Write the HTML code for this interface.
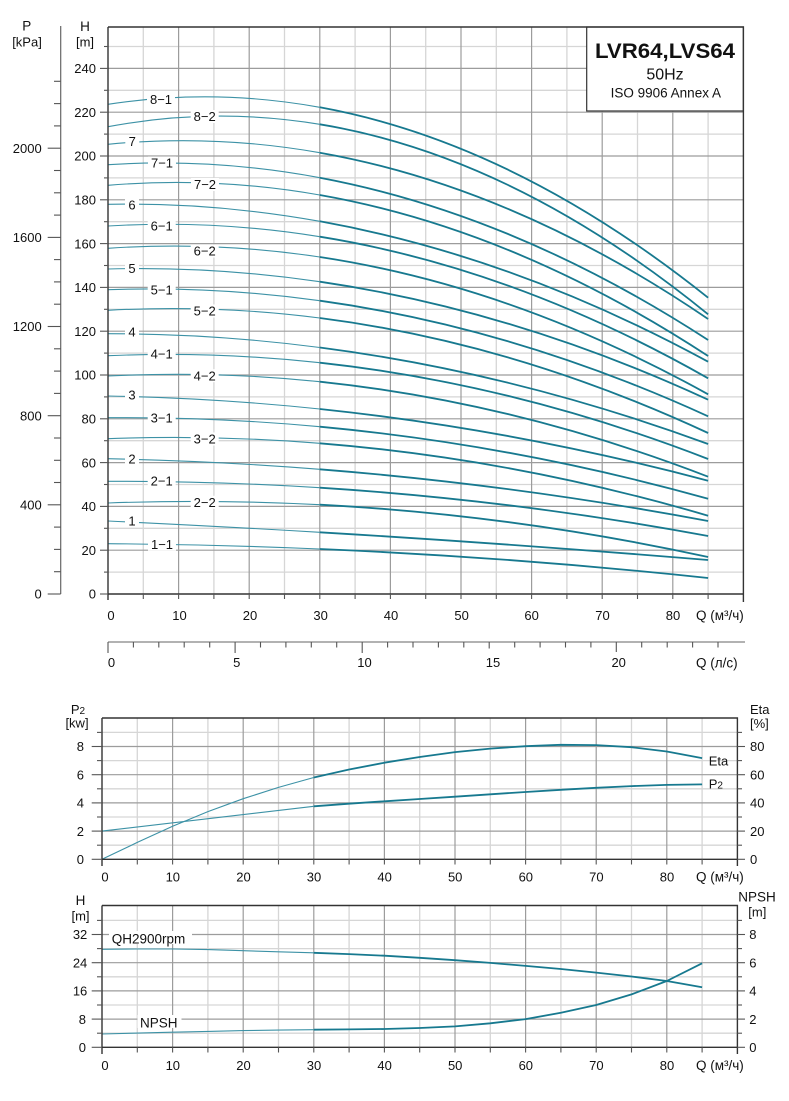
<!DOCTYPE html>
<html><head><meta charset="utf-8"><style>
html,body{margin:0;padding:0;background:#fff;}
svg{display:block;font-family:"Liberation Sans",Arial,sans-serif;}
.gl{stroke:#d6d6d6;stroke-width:1.3;}
.gd{stroke:#9c9c9c;stroke-width:1.2;}
.ax{stroke:#333;stroke-width:1.4;fill:none;}
.tk{stroke:#555;stroke-width:1.1;}
.thin{fill:none;stroke:#3d92a6;stroke-width:1.1;}
.thick{fill:none;stroke:#17798f;stroke-width:1.8;stroke-linejoin:round;}
text{fill:#111;font-size:13px;}
.lb{font-size:13px;text-anchor:middle;}
.r{text-anchor:end;}
.m{text-anchor:middle;}
</style></head><body>
<svg width="789" height="1101" viewBox="0 0 789 1101" xmlns="http://www.w3.org/2000/svg">
<rect width="789" height="1101" fill="#fff"/>

<!-- ================= TOP CHART ================= -->
<g>
<!-- horizontal grid -->
<g class="gl">
<line x1="108" x2="743.4" y1="572.1" y2="572.1"/><line x1="108" x2="743.4" y1="528.3" y2="528.3"/>
<line x1="108" x2="743.4" y1="484.5" y2="484.5"/><line x1="108" x2="743.4" y1="440.7" y2="440.7"/>
<line x1="108" x2="743.4" y1="396.9" y2="396.9"/><line x1="108" x2="743.4" y1="353.1" y2="353.1"/>
<line x1="108" x2="743.4" y1="309.3" y2="309.3"/><line x1="108" x2="743.4" y1="265.5" y2="265.5"/>
<line x1="108" x2="743.4" y1="221.7" y2="221.7"/><line x1="108" x2="743.4" y1="177.9" y2="177.9"/>
<line x1="108" x2="743.4" y1="134.1" y2="134.1"/><line x1="108" x2="743.4" y1="90.3" y2="90.3"/>
<line x1="108" x2="743.4" y1="46.5" y2="46.5"/>
</g>
<g class="gl">
<line y1="27" y2="594" x1="143.3" x2="143.3"/><line y1="27" y2="594" x1="213.9" x2="213.9"/>
<line y1="27" y2="594" x1="284.5" x2="284.5"/><line y1="27" y2="594" x1="355.1" x2="355.1"/>
<line y1="27" y2="594" x1="425.7" x2="425.7"/><line y1="27" y2="594" x1="496.3" x2="496.3"/>
<line y1="27" y2="594" x1="566.9" x2="566.9"/><line y1="27" y2="594" x1="637.5" x2="637.5"/>
<line y1="27" y2="594" x1="708.1" x2="708.1"/>
</g>
<g class="gd">
<line x1="108" x2="743.4" y1="550.2" y2="550.2"/><line x1="108" x2="743.4" y1="506.4" y2="506.4"/>
<line x1="108" x2="743.4" y1="462.6" y2="462.6"/><line x1="108" x2="743.4" y1="418.8" y2="418.8"/>
<line x1="108" x2="743.4" y1="375" y2="375"/><line x1="108" x2="743.4" y1="331.2" y2="331.2"/>
<line x1="108" x2="743.4" y1="287.4" y2="287.4"/><line x1="108" x2="743.4" y1="243.6" y2="243.6"/>
<line x1="108" x2="743.4" y1="199.8" y2="199.8"/><line x1="108" x2="743.4" y1="156" y2="156"/>
<line x1="108" x2="743.4" y1="112.2" y2="112.2"/><line x1="108" x2="743.4" y1="68.4" y2="68.4"/>
<line y1="27" y2="594" x1="178.6" x2="178.6"/><line y1="27" y2="594" x1="249.2" x2="249.2"/>
<line y1="27" y2="594" x1="319.8" x2="319.8"/><line y1="27" y2="594" x1="390.4" x2="390.4"/>
<line y1="27" y2="594" x1="461" x2="461"/><line y1="27" y2="594" x1="531.6" x2="531.6"/>
<line y1="27" y2="594" x1="602.2" x2="602.2"/><line y1="27" y2="594" x1="672.8" x2="672.8"/>
</g>

<!-- curves: thin part 0-30 -->
<g class="thin">
<path d="M108,104.3 Q213.9,88.0 319.8,107.3"/>
<path d="M108,126.7 Q213.9,106.8 319.8,124.3"/>
<path d="M108,144.3 Q213.9,134.0 319.8,152.7"/>
<path d="M108,164.7 Q213.9,157.9 319.8,177.7"/>
<path d="M108,185.3 Q213.9,176.4 319.8,195"/>
<path d="M108,204.3 Q213.9,202.3 319.8,221.3"/>
<path d="M108,226 Q213.9,219.6 319.8,236.7"/>
<path d="M108,248.3 Q213.9,241.0 319.8,257"/>
<path d="M108,269 Q213.9,266.2 319.8,281.7"/>
<path d="M108,289.7 Q213.9,286.0 319.8,300.7"/>
<path d="M108,310.3 Q213.9,304.4 319.8,318"/>
<path d="M108,333.7 Q213.9,333.7 319.8,347.5"/>
<path d="M108,355.7 Q213.9,351.2 319.8,362.7"/>
<path d="M108,376 Q213.9,370.7 319.8,381.7"/>
<path d="M108,396 Q213.9,397.9 319.8,409"/>
<path d="M108,417.7 Q213.9,416.9 319.8,426.7"/>
<path d="M108,438.7 Q213.9,434.8 319.8,443.3"/>
<path d="M108,458.7 Q213.9,460.9 319.8,469.3"/>
<path d="M108,481.3 Q213.9,481.0 319.8,487.7"/>
<path d="M108,503 Q213.9,499.1 319.8,504.7"/>
<path d="M108,521 Q213.9,526.0 319.8,532.3"/>
<path d="M108,543.7 Q213.9,544.5 319.8,549"/>
</g>
<!-- curves: thick part 30-85 -->
<g class="thick">
<path d="M319.8,107.3 Q514,142.7 708.1,297.7"/>
<path d="M319.8,124.3 Q514,156.4 708.1,314.3"/>
<path d="M319.8,152.7 Q514,187.0 708.1,319"/>
<path d="M319.8,177.7 Q514,214.1 708.1,340"/>
<path d="M319.8,195 Q514,229.2 708.1,356"/>
<path d="M319.8,221.3 Q514,256.2 708.1,361.7"/>
<path d="M319.8,236.7 Q514,268.0 708.1,378.3"/>
<path d="M319.8,257 Q514,286.4 708.1,394.3"/>
<path d="M319.8,281.7 Q514,310.1 708.1,399.7"/>
<path d="M319.8,300.7 Q514,327.6 708.1,416.3"/>
<path d="M319.8,318 Q514,342.9 708.1,433"/>
<path d="M319.8,347.5 Q514,372.7 708.1,444"/>
<path d="M319.8,362.7 Q514,383.8 708.1,459"/>
<path d="M319.8,381.7 Q514,401.9 708.1,476.7"/>
<path d="M319.8,409 Q514,429.4 708.1,480.7"/>
<path d="M319.8,426.7 Q514,444.7 708.1,498.7"/>
<path d="M319.8,443.3 Q514,458.8 708.1,515.7"/>
<path d="M319.8,469.3 Q514,484.7 708.1,521"/>
<path d="M319.8,487.7 Q514,500.0 708.1,536"/>
<path d="M319.8,504.7 Q514,514.9 708.1,557"/>
<path d="M319.8,532.3 Q514,543.9 708.1,560"/>
<path d="M319.8,549 Q514,557.3 708.1,578"/>
</g>

<!-- curve labels -->
<g fill="#fff">
<rect x="147" y="93" width="28" height="13"/>
<rect x="190.7" y="110" width="28" height="13"/>
<rect x="125.3" y="135" width="14" height="13"/>
<rect x="148" y="156.5" width="28" height="13"/>
<rect x="191" y="178" width="28" height="13"/>
<rect x="125" y="198.2" width="14" height="13"/>
<rect x="147.7" y="219.5" width="28" height="13"/>
<rect x="190.7" y="244.5" width="28" height="13"/>
<rect x="125" y="261.8" width="14" height="13"/>
<rect x="147.7" y="283.5" width="28" height="13"/>
<rect x="190.7" y="304.5" width="28" height="13"/>
<rect x="125" y="325.2" width="14" height="13"/>
<rect x="147.7" y="347.5" width="28" height="13"/>
<rect x="190.7" y="369.2" width="28" height="13"/>
<rect x="125" y="388.5" width="14" height="13"/>
<rect x="147.7" y="411.2" width="28" height="13"/>
<rect x="190.7" y="432.5" width="28" height="13"/>
<rect x="125" y="452.2" width="14" height="13"/>
<rect x="147.7" y="474.5" width="28" height="13"/>
<rect x="190.7" y="495.8" width="28" height="13"/>
<rect x="125" y="514.5" width="14" height="13"/>
<rect x="148" y="537.8" width="28" height="13"/>
</g>
<g class="lb">
<text x="161" y="104">8−1</text>
<text x="204.7" y="121">8−2</text>
<text x="132.3" y="146">7</text>
<text x="162" y="167.7">7−1</text>
<text x="205" y="189">7−2</text>
<text x="132" y="209.4">6</text>
<text x="161.7" y="230.7">6−1</text>
<text x="204.7" y="255.7">6−2</text>
<text x="132" y="273">5</text>
<text x="161.7" y="294.7">5−1</text>
<text x="204.7" y="315.7">5−2</text>
<text x="132" y="336.4">4</text>
<text x="161.7" y="358.7">4−1</text>
<text x="204.7" y="380.4">4−2</text>
<text x="132" y="399.7">3</text>
<text x="161.7" y="422.4">3−1</text>
<text x="204.7" y="443.7">3−2</text>
<text x="132" y="463.4">2</text>
<text x="161.7" y="485.7">2−1</text>
<text x="204.7" y="507">2−2</text>
<text x="132" y="525.7">1</text>
<text x="162" y="549">1−1</text>
</g>

<!-- title box -->
<rect x="586.7" y="27" width="156.7" height="84" fill="#fff" stroke="#333" stroke-width="1.2"/>
<text x="665" y="58" class="m" style="font-size:21.5px;font-weight:bold" textLength="140" lengthAdjust="spacingAndGlyphs">LVR64,LVS64</text>
<text x="665" y="79.3" class="m" style="font-size:16px">50Hz</text>
<text x="665.8" y="97.7" class="m" style="font-size:13.5px">ISO 9906 Annex A</text>

<!-- border -->
<path class="ax" d="M108,27 H743.4 V602 M108,27 V600 M108,594 H743.4"/>

<!-- H axis ticks -->
<g class="tk">
<line x1="100" x2="108" y1="594" y2="594"/><line x1="104" x2="108" y1="572.1" y2="572.1"/>
<line x1="100" x2="108" y1="550.2" y2="550.2"/><line x1="104" x2="108" y1="528.3" y2="528.3"/>
<line x1="100" x2="108" y1="506.4" y2="506.4"/><line x1="104" x2="108" y1="484.5" y2="484.5"/>
<line x1="100" x2="108" y1="462.6" y2="462.6"/><line x1="104" x2="108" y1="440.7" y2="440.7"/>
<line x1="100" x2="108" y1="418.8" y2="418.8"/><line x1="104" x2="108" y1="396.9" y2="396.9"/>
<line x1="100" x2="108" y1="375" y2="375"/><line x1="104" x2="108" y1="353.1" y2="353.1"/>
<line x1="100" x2="108" y1="331.2" y2="331.2"/><line x1="104" x2="108" y1="309.3" y2="309.3"/>
<line x1="100" x2="108" y1="287.4" y2="287.4"/><line x1="104" x2="108" y1="265.5" y2="265.5"/>
<line x1="100" x2="108" y1="243.6" y2="243.6"/><line x1="104" x2="108" y1="221.7" y2="221.7"/>
<line x1="100" x2="108" y1="199.8" y2="199.8"/><line x1="104" x2="108" y1="177.9" y2="177.9"/>
<line x1="100" x2="108" y1="156" y2="156"/><line x1="104" x2="108" y1="134.1" y2="134.1"/>
<line x1="100" x2="108" y1="112.2" y2="112.2"/><line x1="104" x2="108" y1="90.3" y2="90.3"/>
<line x1="100" x2="108" y1="68.4" y2="68.4"/><line x1="104" x2="108" y1="46.5" y2="46.5"/>
</g>
<g class="r" style="font-size:13.5px">
<text x="96" y="598.7">0</text><text x="96" y="554.9">20</text><text x="96" y="511.1">40</text>
<text x="96" y="467.3">60</text><text x="96" y="423.5">80</text><text x="96" y="379.7">100</text>
<text x="96" y="335.9">120</text><text x="96" y="292.1">140</text><text x="96" y="248.3">160</text>
<text x="96" y="204.5">180</text><text x="96" y="160.7">200</text><text x="96" y="116.9">220</text>
<text x="96" y="73.1">240</text>
</g>
<text x="85" y="31" class="m" style="font-size:13.5px">H</text>
<text x="85" y="46.5" class="m" style="font-size:13px">[m]</text>

<!-- P axis -->
<line x1="60.7" x2="60.7" y1="26" y2="594" stroke="#666" stroke-width="1.2"/>
<g class="tk">
<line x1="47.7" x2="60.7" y1="594" y2="594"/><line x1="54" x2="60.7" y1="571.7" y2="571.7"/>
<line x1="54" x2="60.7" y1="549.4" y2="549.4"/><line x1="54" x2="60.7" y1="527.1" y2="527.1"/>
<line x1="47.7" x2="60.7" y1="504.8" y2="504.8"/><line x1="54" x2="60.7" y1="482.5" y2="482.5"/>
<line x1="54" x2="60.7" y1="460.3" y2="460.3"/><line x1="54" x2="60.7" y1="438" y2="438"/>
<line x1="47.7" x2="60.7" y1="415.7" y2="415.7"/><line x1="54" x2="60.7" y1="393.4" y2="393.4"/>
<line x1="54" x2="60.7" y1="371.1" y2="371.1"/><line x1="54" x2="60.7" y1="348.8" y2="348.8"/>
<line x1="47.7" x2="60.7" y1="326.5" y2="326.5"/><line x1="54" x2="60.7" y1="304.2" y2="304.2"/>
<line x1="54" x2="60.7" y1="281.9" y2="281.9"/><line x1="54" x2="60.7" y1="259.6" y2="259.6"/>
<line x1="47.7" x2="60.7" y1="237.4" y2="237.4"/><line x1="54" x2="60.7" y1="215.1" y2="215.1"/>
<line x1="54" x2="60.7" y1="192.8" y2="192.8"/><line x1="54" x2="60.7" y1="170.5" y2="170.5"/>
<line x1="47.7" x2="60.7" y1="148.2" y2="148.2"/><line x1="54" x2="60.7" y1="125.9" y2="125.9"/>
<line x1="54" x2="60.7" y1="103.6" y2="103.6"/><line x1="54" x2="60.7" y1="81.3" y2="81.3"/>
</g>
<g class="r">
<text x="41.7" y="598.7">0</text><text x="41.7" y="509.5">400</text><text x="41.7" y="420.4">800</text>
<text x="41.7" y="331.2">1200</text><text x="41.7" y="242.1">1600</text><text x="41.7" y="152.9">2000</text>
</g>
<text x="26.7" y="30.7" class="m" style="font-size:13.5px">P</text>
<text x="27" y="46.5" class="m" style="font-size:13px">[kPa]</text>

<!-- Q bottom ticks -->
<g class="tk">
<line x1="143.3" x2="143.3" y1="594" y2="599"/><line x1="178.6" x2="178.6" y1="594" y2="599"/>
<line x1="213.9" x2="213.9" y1="594" y2="599"/><line x1="249.2" x2="249.2" y1="594" y2="599"/>
<line x1="284.5" x2="284.5" y1="594" y2="599"/><line x1="319.8" x2="319.8" y1="594" y2="599"/>
<line x1="355.1" x2="355.1" y1="594" y2="599"/><line x1="390.4" x2="390.4" y1="594" y2="599"/>
<line x1="425.7" x2="425.7" y1="594" y2="599"/><line x1="461" x2="461" y1="594" y2="599"/>
<line x1="496.3" x2="496.3" y1="594" y2="599"/><line x1="531.6" x2="531.6" y1="594" y2="599"/>
<line x1="566.9" x2="566.9" y1="594" y2="599"/><line x1="602.2" x2="602.2" y1="594" y2="599"/>
<line x1="637.5" x2="637.5" y1="594" y2="599"/><line x1="672.8" x2="672.8" y1="594" y2="599"/>
<line x1="708.1" x2="708.1" y1="594" y2="599"/>
</g>
<g class="m" style="font-size:13.5px">
<text x="111" y="620">0</text><text x="179.5" y="620">10</text><text x="250" y="620">20</text>
<text x="320.6" y="620">30</text><text x="391" y="620">40</text><text x="461.6" y="620">50</text>
<text x="531.6" y="620">60</text><text x="602.5" y="620">70</text><text x="673" y="620">80</text>
</g>
<text x="696" y="620" style="font-size:13.5px">Q (м³/ч)</text>

<!-- l/s axis -->
<line x1="108" x2="745" y1="642" y2="642" stroke="#666" stroke-width="1.1"/>
<g class="tk">
<line x1="108" x2="108" y1="642" y2="653"/><line x1="133.4" x2="133.4" y1="642" y2="647.5"/>
<line x1="158.8" x2="158.8" y1="642" y2="647.5"/><line x1="184.2" x2="184.2" y1="642" y2="647.5"/>
<line x1="209.7" x2="209.7" y1="642" y2="647.5"/><line x1="235.1" x2="235.1" y1="642" y2="653"/>
<line x1="260.5" x2="260.5" y1="642" y2="647.5"/><line x1="285.9" x2="285.9" y1="642" y2="647.5"/>
<line x1="311.3" x2="311.3" y1="642" y2="647.5"/><line x1="336.7" x2="336.7" y1="642" y2="647.5"/>
<line x1="362.2" x2="362.2" y1="642" y2="653"/><line x1="387.6" x2="387.6" y1="642" y2="647.5"/>
<line x1="413" x2="413" y1="642" y2="647.5"/><line x1="438.4" x2="438.4" y1="642" y2="647.5"/>
<line x1="463.8" x2="463.8" y1="642" y2="647.5"/><line x1="489.2" x2="489.2" y1="642" y2="648.5"/>
<line x1="514.7" x2="514.7" y1="642" y2="647.5"/><line x1="540.1" x2="540.1" y1="642" y2="647.5"/>
<line x1="565.5" x2="565.5" y1="642" y2="647.5"/><line x1="590.9" x2="590.9" y1="642" y2="647.5"/>
<line x1="616.3" x2="616.3" y1="642" y2="652"/><line x1="641.7" x2="641.7" y1="642" y2="647.5"/>
<line x1="667.2" x2="667.2" y1="642" y2="647.5"/><line x1="692.6" x2="692.6" y1="642" y2="647.5"/>
<line x1="718" x2="718" y1="642" y2="647.5"/>
</g>
<g class="m" style="font-size:13.5px">
<text x="111.5" y="667">0</text><text x="236.7" y="667">5</text><text x="364.5" y="667">10</text>
<text x="493" y="667">15</text><text x="618.7" y="667">20</text>
</g>
<text x="696" y="667.5" style="font-size:13.5px">Q (л/с)</text>
</g>

<!-- ================= MIDDLE CHART ================= -->
<g>
<g class="gl">
<line x1="102" x2="737.4" y1="845.2" y2="845.2"/><line x1="102" x2="737.4" y1="817" y2="817"/>
<line x1="102" x2="737.4" y1="788.8" y2="788.8"/><line x1="102" x2="737.4" y1="760.6" y2="760.6"/>
<line x1="102" x2="737.4" y1="732.4" y2="732.4"/>
<line y1="718" y2="859.3" x1="137.3" x2="137.3"/><line y1="718" y2="859.3" x1="207.9" x2="207.9"/>
<line y1="718" y2="859.3" x1="278.5" x2="278.5"/><line y1="718" y2="859.3" x1="349.1" x2="349.1"/>
<line y1="718" y2="859.3" x1="419.7" x2="419.7"/><line y1="718" y2="859.3" x1="490.3" x2="490.3"/>
<line y1="718" y2="859.3" x1="560.9" x2="560.9"/><line y1="718" y2="859.3" x1="631.5" x2="631.5"/>
<line y1="718" y2="859.3" x1="702.1" x2="702.1"/>
</g>
<g class="gd">
<line x1="102" x2="737.4" y1="831.1" y2="831.1"/><line x1="102" x2="737.4" y1="802.9" y2="802.9"/>
<line x1="102" x2="737.4" y1="774.7" y2="774.7"/><line x1="102" x2="737.4" y1="746.5" y2="746.5"/>
<line y1="718" y2="859.3" x1="172.6" x2="172.6"/><line y1="718" y2="859.3" x1="243.2" x2="243.2"/>
<line y1="718" y2="859.3" x1="313.8" x2="313.8"/><line y1="718" y2="859.3" x1="384.4" x2="384.4"/>
<line y1="718" y2="859.3" x1="455" x2="455"/><line y1="718" y2="859.3" x1="525.6" x2="525.6"/>
<line y1="718" y2="859.3" x1="596.2" x2="596.2"/><line y1="718" y2="859.3" x1="666.8" x2="666.8"/>
</g>
<polyline class="thin" points="102,859.3 137.3,842.4 172.6,826.2 207.9,811.6 243.2,798.7 278.5,787.4 313.8,777.5"/>
<polyline class="thick" points="313.8,777.5 349.1,769.5 384.4,762.7 419.7,757.0 455,752.1 490.3,748.6 525.6,746.2 560.9,744.8 596.2,745.1 631.5,747.2 666.8,751.5 702.1,758.1"/>
<polyline class="thin" points="102,831.1 313.8,806.3"/>
<polyline class="thick" points="313.8,806.3 349.1,803.7 384.4,801.3 419.7,799.0 455,796.7 490.3,794.3 525.6,792.0 560.9,789.8 596.2,787.8 631.5,786.1 666.8,784.9 702.1,784.4"/>
<text x="708.7" y="765.7">Eta</text>
<text x="708.7" y="788.3">P<tspan style="font-size:10px">2</tspan></text>

<path class="ax" d="M102,718 H737.4 V866 M102,718 V866 M102,859.3 H737.4"/>
<g class="tk">
<line x1="91.7" x2="102" y1="859.3" y2="859.3"/><line x1="97" x2="102" y1="845.2" y2="845.2"/>
<line x1="91.7" x2="102" y1="831.1" y2="831.1"/><line x1="97" x2="102" y1="817" y2="817"/>
<line x1="91.7" x2="102" y1="802.9" y2="802.9"/><line x1="97" x2="102" y1="788.8" y2="788.8"/>
<line x1="91.7" x2="102" y1="774.7" y2="774.7"/><line x1="97" x2="102" y1="760.6" y2="760.6"/>
<line x1="91.7" x2="102" y1="746.5" y2="746.5"/><line x1="97" x2="102" y1="732.4" y2="732.4"/>
<line x1="737.4" x2="745" y1="859.3" y2="859.3"/><line x1="737.4" x2="742" y1="845.2" y2="845.2"/>
<line x1="737.4" x2="745" y1="831.1" y2="831.1"/><line x1="737.4" x2="742" y1="817" y2="817"/>
<line x1="737.4" x2="745" y1="802.9" y2="802.9"/><line x1="737.4" x2="742" y1="788.8" y2="788.8"/>
<line x1="737.4" x2="745" y1="774.7" y2="774.7"/><line x1="737.4" x2="742" y1="760.6" y2="760.6"/>
<line x1="737.4" x2="745" y1="746.5" y2="746.5"/><line x1="737.4" x2="742" y1="732.4" y2="732.4"/>
<line x1="137.3" x2="137.3" y1="859.3" y2="864.5"/><line x1="172.6" x2="172.6" y1="859.3" y2="864.5"/>
<line x1="207.9" x2="207.9" y1="859.3" y2="864.5"/><line x1="243.2" x2="243.2" y1="859.3" y2="864.5"/>
<line x1="278.5" x2="278.5" y1="859.3" y2="864.5"/><line x1="313.8" x2="313.8" y1="859.3" y2="864.5"/>
<line x1="349.1" x2="349.1" y1="859.3" y2="864.5"/><line x1="384.4" x2="384.4" y1="859.3" y2="864.5"/>
<line x1="419.7" x2="419.7" y1="859.3" y2="864.5"/><line x1="455" x2="455" y1="859.3" y2="864.5"/>
<line x1="490.3" x2="490.3" y1="859.3" y2="864.5"/><line x1="525.6" x2="525.6" y1="859.3" y2="864.5"/>
<line x1="560.9" x2="560.9" y1="859.3" y2="864.5"/><line x1="596.2" x2="596.2" y1="859.3" y2="864.5"/>
<line x1="631.5" x2="631.5" y1="859.3" y2="864.5"/><line x1="666.8" x2="666.8" y1="859.3" y2="864.5"/>
<line x1="702.1" x2="702.1" y1="859.3" y2="864.5"/>
</g>
<g class="r" style="font-size:13.5px">
<text x="84" y="864">0</text><text x="84" y="835.8">2</text><text x="84" y="807.6">4</text>
<text x="84" y="779.4">6</text><text x="84" y="751.2">8</text>
</g>
<g style="font-size:13.5px">
<text x="750" y="864">0</text><text x="750" y="835.8">20</text><text x="750" y="807.6">40</text>
<text x="750" y="779.4">60</text><text x="750" y="751.2">80</text>
</g>
<text x="78" y="714" class="m">P<tspan style="font-size:10px">2</tspan></text>
<text x="77" y="727.5" class="m">[kw]</text>
<text x="750" y="714">Eta</text>
<text x="750" y="728">[%]</text>
<g class="m" style="font-size:13.5px">
<text x="105" y="881.5">0</text><text x="172.8" y="881.5">10</text><text x="243.5" y="881.5">20</text>
<text x="314" y="881.5">30</text><text x="384.6" y="881.5">40</text><text x="455.2" y="881.5">50</text>
<text x="525.8" y="881.5">60</text><text x="596.4" y="881.5">70</text><text x="667" y="881.5">80</text>
</g>
<text x="696" y="881.5" style="font-size:13.5px">Q (м³/ч)</text>
</g>

<!-- ================= BOTTOM CHART ================= -->
<g>
<g class="gl">
<line x1="102" x2="737.4" y1="1033.2" y2="1033.2"/><line x1="102" x2="737.4" y1="1005" y2="1005"/>
<line x1="102" x2="737.4" y1="976.8" y2="976.8"/><line x1="102" x2="737.4" y1="948.6" y2="948.6"/>
<line x1="102" x2="737.4" y1="920.4" y2="920.4"/>
<line y1="905.5" y2="1047.3" x1="137.3" x2="137.3"/><line y1="905.5" y2="1047.3" x1="207.9" x2="207.9"/>
<line y1="905.5" y2="1047.3" x1="278.5" x2="278.5"/><line y1="905.5" y2="1047.3" x1="349.1" x2="349.1"/>
<line y1="905.5" y2="1047.3" x1="419.7" x2="419.7"/><line y1="905.5" y2="1047.3" x1="490.3" x2="490.3"/>
<line y1="905.5" y2="1047.3" x1="560.9" x2="560.9"/><line y1="905.5" y2="1047.3" x1="631.5" x2="631.5"/>
<line y1="905.5" y2="1047.3" x1="702.1" x2="702.1"/>
</g>
<g class="gd">
<line x1="102" x2="737.4" y1="1019.1" y2="1019.1"/><line x1="102" x2="737.4" y1="990.9" y2="990.9"/>
<line x1="102" x2="737.4" y1="962.7" y2="962.7"/><line x1="102" x2="737.4" y1="934.5" y2="934.5"/>
<line y1="905.5" y2="1047.3" x1="172.6" x2="172.6"/><line y1="905.5" y2="1047.3" x1="243.2" x2="243.2"/>
<line y1="905.5" y2="1047.3" x1="313.8" x2="313.8"/><line y1="905.5" y2="1047.3" x1="384.4" x2="384.4"/>
<line y1="905.5" y2="1047.3" x1="455" x2="455"/><line y1="905.5" y2="1047.3" x1="525.6" x2="525.6"/>
<line y1="905.5" y2="1047.3" x1="596.2" x2="596.2"/><line y1="905.5" y2="1047.3" x1="666.8" x2="666.8"/>
</g>
<polyline class="thin" points="102,949.3 137.3,949.0 172.6,949.0 207.9,949.6 243.2,950.7 278.5,951.8 313.8,952.8"/>
<polyline class="thick" points="313.8,952.8 349.1,954.1 384.4,955.7 419.7,957.8 455,960.2 490.3,962.9 525.6,965.9 560.9,969.0 596.2,972.6 631.5,976.5 666.8,981.0 702.1,987.3"/>
<polyline class="thin" points="102,1034.0 137.3,1033.1 172.6,1032.2 207.9,1031.4 243.2,1030.6 278.5,1030.1 313.8,1029.7"/>
<polyline class="thick" points="313.8,1029.7 349.1,1029.4 384.4,1029.0 419.7,1028.0 455,1026.4 490.3,1023.3 525.6,1019.1 560.9,1012.8 596.2,1005.0 631.5,994.4 666.8,981.0 702.1,963.3"/>
<rect x="109" y="931" width="83" height="13" fill="#fff"/>
<text x="111.7" y="943.3" style="font-size:13.5px">QH2900rpm</text>
<rect x="137.5" y="1015" width="44" height="13" fill="#fff"/>
<text x="140" y="1027.3" style="font-size:13.5px">NPSH</text>

<path class="ax" d="M102,905.5 H737.4 V1054 M102,905.5 V1054 M102,1047.3 H737.4"/>
<g class="tk">
<line x1="91.7" x2="102" y1="1047.3" y2="1047.3"/><line x1="97" x2="102" y1="1033.2" y2="1033.2"/>
<line x1="91.7" x2="102" y1="1019.1" y2="1019.1"/><line x1="97" x2="102" y1="1005" y2="1005"/>
<line x1="91.7" x2="102" y1="990.9" y2="990.9"/><line x1="97" x2="102" y1="976.8" y2="976.8"/>
<line x1="91.7" x2="102" y1="962.7" y2="962.7"/><line x1="97" x2="102" y1="948.6" y2="948.6"/>
<line x1="91.7" x2="102" y1="934.5" y2="934.5"/><line x1="97" x2="102" y1="920.4" y2="920.4"/>
<line x1="737.4" x2="745" y1="1047.3" y2="1047.3"/><line x1="737.4" x2="742" y1="1033.2" y2="1033.2"/>
<line x1="737.4" x2="745" y1="1019.1" y2="1019.1"/><line x1="737.4" x2="742" y1="1005" y2="1005"/>
<line x1="737.4" x2="745" y1="990.9" y2="990.9"/><line x1="737.4" x2="742" y1="976.8" y2="976.8"/>
<line x1="737.4" x2="745" y1="962.7" y2="962.7"/><line x1="737.4" x2="742" y1="948.6" y2="948.6"/>
<line x1="737.4" x2="745" y1="934.5" y2="934.5"/><line x1="737.4" x2="742" y1="920.4" y2="920.4"/>
<line x1="137.3" x2="137.3" y1="1047.3" y2="1052.5"/><line x1="172.6" x2="172.6" y1="1047.3" y2="1052.5"/>
<line x1="207.9" x2="207.9" y1="1047.3" y2="1052.5"/><line x1="243.2" x2="243.2" y1="1047.3" y2="1052.5"/>
<line x1="278.5" x2="278.5" y1="1047.3" y2="1052.5"/><line x1="313.8" x2="313.8" y1="1047.3" y2="1052.5"/>
<line x1="349.1" x2="349.1" y1="1047.3" y2="1052.5"/><line x1="384.4" x2="384.4" y1="1047.3" y2="1052.5"/>
<line x1="419.7" x2="419.7" y1="1047.3" y2="1052.5"/><line x1="455" x2="455" y1="1047.3" y2="1052.5"/>
<line x1="490.3" x2="490.3" y1="1047.3" y2="1052.5"/><line x1="525.6" x2="525.6" y1="1047.3" y2="1052.5"/>
<line x1="560.9" x2="560.9" y1="1047.3" y2="1052.5"/><line x1="596.2" x2="596.2" y1="1047.3" y2="1052.5"/>
<line x1="631.5" x2="631.5" y1="1047.3" y2="1052.5"/><line x1="666.8" x2="666.8" y1="1047.3" y2="1052.5"/>
<line x1="702.1" x2="702.1" y1="1047.3" y2="1052.5"/>
</g>
<g class="r" style="font-size:13.5px">
<text x="86" y="1052">0</text><text x="86" y="1023.8">8</text><text x="87.3" y="995.6">16</text>
<text x="87.3" y="967.4">24</text><text x="87.3" y="939.2">32</text>
</g>
<g style="font-size:13.5px">
<text x="749.3" y="1052">0</text><text x="749.3" y="1023.8">2</text><text x="749.3" y="995.6">4</text>
<text x="749.3" y="967.4">6</text><text x="749.3" y="939.2">8</text>
</g>
<text x="80.5" y="905" class="m" style="font-size:13.5px">H</text>
<text x="80.5" y="920.5" class="m">[m]</text>
<text x="738.3" y="901.7" style="font-size:13.5px">NPSH</text>
<text x="748.3" y="916.5">[m]</text>
<g class="m" style="font-size:13.5px">
<text x="105" y="1070">0</text><text x="172.8" y="1070">10</text><text x="243.5" y="1070">20</text>
<text x="314" y="1070">30</text><text x="384.6" y="1070">40</text><text x="455.2" y="1070">50</text>
<text x="525.8" y="1070">60</text><text x="596.4" y="1070">70</text><text x="667" y="1070">80</text>
</g>
<text x="696" y="1070" style="font-size:13.5px">Q (м³/ч)</text>
</g>
</svg>
</body></html>
